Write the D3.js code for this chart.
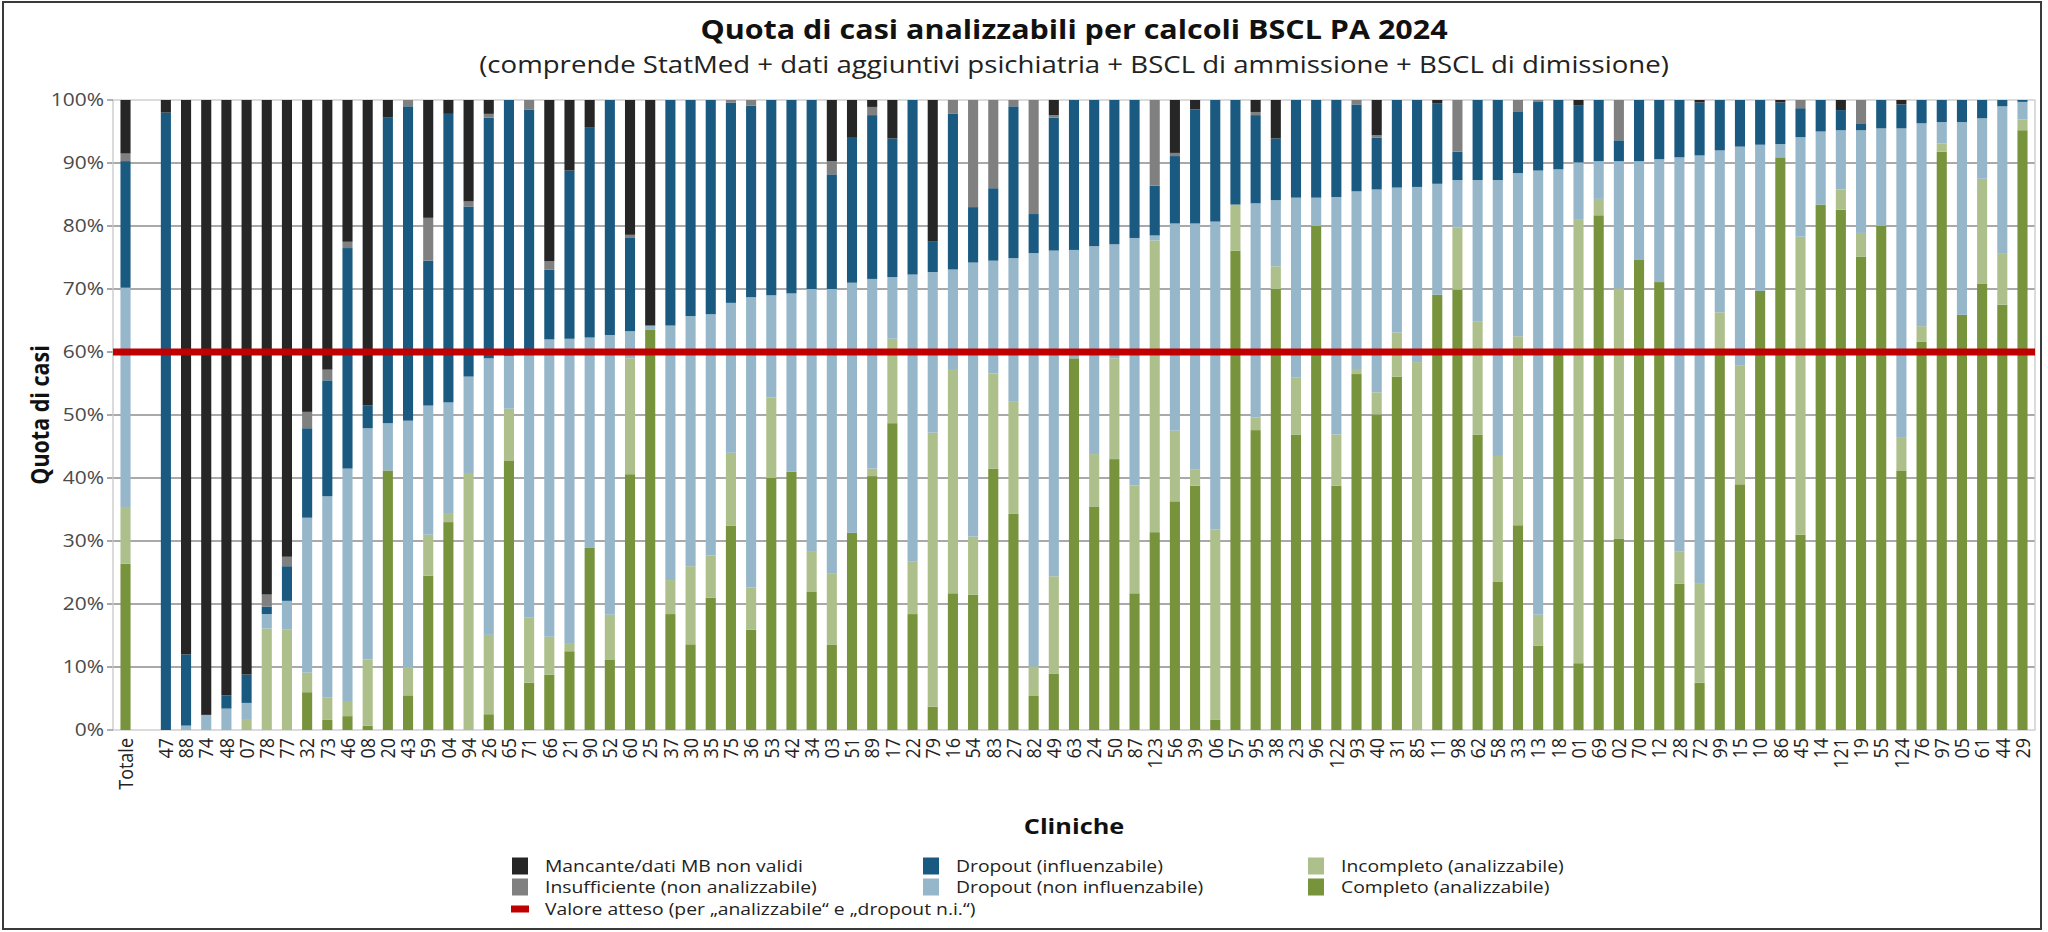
<!DOCTYPE html>
<html><head><meta charset="utf-8">
<script src="https://cdn.jsdelivr.net/npm/d3@7"></script>
<style>
html,body{margin:0;padding:0;background:#fff;}
svg{display:block;font-family:"Open Sans","Noto Sans",sans-serif;}
</style></head>
<body><svg id="c" width="2048" height="932"></svg>
<script>
// ---------- DATA ----------
const categories = ["Totale","47","88","74","48","07","78","77","32","73","46","08","20","43","59","04","94","26","65","71","66","21","90","52","60","25","37","30","35","75","36","53","42","34","03","51","89","17","22","79","16","54","83","27","82","49","63","24","50","87","123","56","39","06","57","95","38","23","96","122","93","40","31","85","11","98","62","58","33","13","18","01","69","02","70","12","28","72","99","15","10","86","45","14","121","19","55","124","76","97","05","61","44","29"];

const completo = [26.4,0,0,0,0,0,0,0,6.0,1.6,2.2,0.7,41.2,5.5,24.5,33.0,0,2.5,42.7,7.5,8.8,12.5,28.9,11.2,40.6,63.5,18.4,13.6,21.0,32.4,15.9,40.0,41.0,22.0,13.5,31.3,40.3,48.7,18.4,3.7,21.7,21.5,41.5,34.3,5.4,8.9,59.0,35.4,43.0,21.7,31.4,36.3,38.8,1.6,76.1,47.6,70.0,46.9,80.0,38.8,56.5,50.1,56.1,0,69.1,69.9,46.9,23.5,32.5,13.4,59.7,10.6,81.7,30.4,74.6,71.1,23.2,7.5,60.0,39.0,69.7,90.9,31.0,83.4,82.6,75.1,80.0,41.2,61.6,91.8,65.9,70.8,67.5,95.2];
const incompleto = [9.0,0,0,0,0,1.6,16.1,16.0,3.1,3.6,2.4,10.5,0,4.5,6.5,1.3,40.8,12.6,8.3,10.4,6.0,1.3,0,7.1,18.4,0,5.4,12.4,6.7,11.6,6.7,12.8,0,6.4,11.4,0,1.2,13.4,8.4,43.5,35.6,9.2,15.1,17.9,4.7,15.5,0,8.4,16.0,17.1,46.3,11.2,2.6,30.2,7.3,2.0,3.6,9.1,0,8.1,0.8,3.5,7.0,58.4,0,9.9,17.9,20.0,30.0,4.9,0,70.5,2.6,39.7,0,0,5.1,15.7,6.3,18.9,0,0,47.3,0,3.2,3.8,0,5.3,2.5,1.3,0,16.7,8.2,1.7];
const dropoutNonInfl = [34.8,0,0.7,2.4,3.4,2.7,2.3,4.5,24.6,31.9,36.9,36.7,7.5,39.1,20.5,17.7,15.3,43.9,8.4,41.6,47.2,48.3,33.4,44.4,4.3,0.7,40.4,39.7,38.3,23.8,46.1,16.2,28.3,41.6,45.1,39.7,30.1,9.8,45.5,25.5,15.8,43.5,17.9,22.7,65.6,51.7,17.2,33.0,18.1,39.3,0.8,32.9,39.0,48.9,0,34.0,10.5,28.5,4.5,37.7,28.2,32.2,23.0,27.8,17.6,7.5,22.5,43.8,25.9,70.5,29.3,9.0,6.0,20.2,15.7,19.5,62.6,68.0,25.7,34.7,23.2,2.1,15.8,11.6,9.4,16.3,15.5,49.0,32.2,3.4,30.6,9.6,23.3,2.8];
const dropoutInfl = [20.1,98.0,11.3,0,2.1,4.5,1.2,5.5,14.2,18.4,35.0,3.6,48.5,49.9,23.0,45.8,27.0,38.2,40.6,39.0,11.1,26.7,33.4,37.3,14.8,0,35.8,34.3,34.0,31.8,30.4,31.0,30.7,30.0,18.2,23.0,26.0,22.0,27.7,4.9,24.7,8.8,11.5,24.1,6.2,21.1,23.8,23.2,22.9,21.9,7.9,10.7,18.1,19.3,16.6,14.0,9.8,15.5,15.5,15.4,13.8,8.2,13.9,13.8,12.8,4.5,12.7,12.7,9.7,10.9,11.0,9.0,9.7,3.3,9.7,9.4,9.1,8.4,8.0,7.4,7.1,6.6,4.6,5.0,3.2,1.1,4.5,3.8,3.7,3.5,3.5,2.9,1.0,0.3];
const insufficiente = [1.2,0,0,0,0,0,1.9,1.5,2.6,1.7,1.0,0,0,1.0,6.8,0,0.8,0.6,0,1.5,1.3,0,0,0,0.5,0,0,0,0,0.4,0.9,0,0,0,2.1,0,1.3,0,0,0,2.2,17.0,14.0,1.0,18.1,0.4,0,0,0,0,13.6,0.5,0,0,0,0.5,0,0,0,0,0.7,0.4,0,0,0,8.2,0,0,1.9,0.3,0,0,0,6.4,0,0,0,0,0,0,0,0,1.3,0,0,3.7,0,0,0,0,0,0,0,0];
const mancante = [8.5,2.0,88.0,97.6,94.5,91.2,78.5,72.5,49.5,42.8,22.5,48.5,2.8,0,18.7,2.2,16.1,2.2,0,0,25.6,11.2,4.3,0,21.4,35.8,0,0,0,0,0,0,0,0,9.7,6.0,1.1,6.1,0,22.4,0,0,0,0,0,2.4,0,0,0,0,0,8.4,1.5,0,0,1.9,6.1,0,0,0,0,5.6,0,0,0.5,0,0,0,0,0,0,0.9,0,0,0,0,0,0.4,0,0,0,0.4,0,0,1.6,0,0,0.7,0,0,0,0,0,0];

const seriesNames = ["Completo (analizzabile)","Incompleto (analizzabile)","Dropout (non influenzabile)","Dropout (influenzabile)","Insufficiente (non analizzabile)","Mancante/dati MB non validi"];
const seriesColors = ["#77933c","#adc08b","#96b7ca","#1a5a80","#808080","#262626"];
const yTicks = [0,10,20,30,40,50,60,70,80,90,100];
const targetValue = [60];
const titleText = "Quota di casi analizzabili per calcoli BSCL PA 2024";
const subtitleText = "(comprende StatMed + dati aggiuntivi psichiatria + BSCL di ammissione + BSCL di dimissione)";
const legendRows = [
  ["Mancante/dati MB non validi","Dropout (influenzabile)","Incompleto (analizzabile)"],
  ["Insufficiente (non analizzabile)","Dropout (non influenzabile)","Completo (analizzabile)"]
];
const targetLabel = "Valore atteso (per \u201Eanalizzabile\u201C e \u201Edropout n.i.\u201C)";

// ---------- LAYOUT ----------
const svg = d3.select("#c");
const L = 113, R = 2035, T = 100, B = 730;
const SX = 1.15; // horizontal stretch of the reference's lettering
const seriesArrays = [completo, incompleto, dropoutNonInfl, dropoutInfl, insufficiente, mancante];
const rows = categories.map((c,i)=>{ const o={cat:c}; seriesNames.forEach((s,k)=>o[s]=seriesArrays[k][i]); return o; });
const domain = [categories[0], "__gap__", ...categories.slice(1)];
const x = d3.scaleBand().domain(domain).range([L, R]).paddingInner(0.5).paddingOuter(0.37);
const y = d3.scaleLinear().domain([0,100]).range([B, T]);
const color = d3.scaleOrdinal().domain(seriesNames).range(seriesColors);

function htext(px, py, str, size, opts={}){
  const g = svg.append("g").attr("transform",`translate(${px},${py}) scale(${SX},1)`);
  return g.append("text").attr("text-anchor",opts.anchor||"start").attr("dy",opts.dy||"0.35em")
    .attr("font-size",size).attr("font-weight",opts.bold?"bold":"normal")
    .attr("fill",opts.fill||"#222").text(str);
}

svg.append("rect").attr("x",0).attr("y",0).attr("width",2048).attr("height",932).attr("fill","#fff");
svg.append("rect").attr("x",3).attr("y",2).attr("width",2038).attr("height",927)
  .attr("fill","none").attr("stroke","#3a3a3a").attr("stroke-width",2);

// title
htext(1074, 30, titleText, 26.5, {anchor:"middle", bold:true, fill:"#111"});
htext(1074, 65, subtitleText, 24, {anchor:"middle", fill:"#222"});

// grid
svg.append("g").selectAll("line").data(yTicks.filter(t=>t>0 && t<100)).join("line")
  .attr("x1",L-6).attr("x2",R).attr("y1",d=>y(d)).attr("y2",d=>y(d))
  .attr("stroke","#8c8c8c").attr("stroke-width",1.3);
svg.append("rect").attr("x",L).attr("y",T).attr("width",R-L).attr("height",B-T)
  .attr("fill","none").attr("stroke","#c8c8c8").attr("stroke-width",1.3);
svg.append("g").selectAll("line").data([0,100]).join("line")
  .attr("x1",L-6).attr("x2",L).attr("y1",d=>y(d)).attr("y2",d=>y(d))
  .attr("stroke","#8c8c8c").attr("stroke-width",1.3);

// bars
const stack = d3.stack().keys(seriesNames)(rows);
svg.append("g").selectAll("g").data(stack).join("g").attr("fill",d=>color(d.key))
  .selectAll("rect").data(d=>d).join("rect")
  .attr("x",d=>x(d.data.cat)).attr("width",x.bandwidth())
  .attr("y",d=>y(d[1])).attr("height",d=>Math.max(0,y(d[0])-y(d[1])));

// target line
svg.append("g").selectAll("line").data(targetValue).join("line")
  .attr("x1",L).attr("x2",R).attr("y1",d=>y(d)).attr("y2",d=>y(d))
  .attr("stroke","#c00000").attr("stroke-width",7);

// y axis labels
yTicks.forEach(t=>htext(L-9, y(t), t+"%", 18.2, {anchor:"end", fill:"#4a4a4a"}));
svg.append("text").attr("transform",`translate(40,${(T+B)/2}) rotate(-90) scale(1,${SX})`)
  .attr("text-anchor","middle").attr("dy","0.35em")
  .attr("font-size",21.5).attr("font-weight","bold").attr("fill","#111").text("Quota di casi");

// x labels
svg.append("g").selectAll("text").data(categories).join("text")
  .attr("transform",d=>`translate(${x(d)+x.bandwidth()/2},${B+8}) rotate(-90) scale(1,${SX})`)
  .attr("text-anchor","end").attr("dy","0.35em")
  .attr("font-size",18).attr("fill","#222").text(d=>d);
htext(1074, 826, "Cliniche", 22, {anchor:"middle", bold:true, fill:"#111"});

// legend
const colX = [520, 931, 1316], rowY = [866, 887, 909];
legendRows.forEach((r,ri)=>r.forEach((name,ci)=>{
  svg.append("rect").attr("x",colX[ci]-8).attr("y",rowY[ri]-8.5).attr("width",16).attr("height",17).attr("fill",color(name));
  htext(colX[ci]+25, rowY[ri], name, 16.8, {fill:"#222"});
}));
svg.append("g").selectAll("rect").data(targetValue).join("rect")
  .attr("x",colX[0]-9).attr("y",rowY[2]-3.5).attr("width",18).attr("height",7).attr("fill","#c00000");
htext(colX[0]+25, rowY[2], targetLabel, 16.8, {fill:"#222"});
</script></body></html>
